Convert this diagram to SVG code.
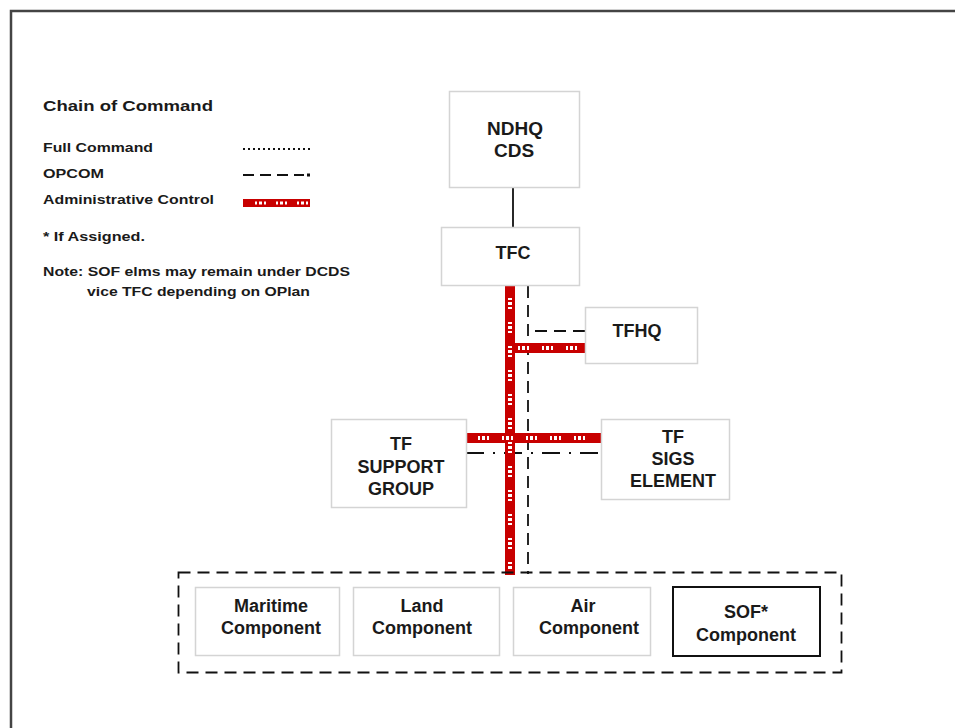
<svg xmlns="http://www.w3.org/2000/svg" width="955" height="728" viewBox="0 0 955 728">
<style>
text{font-family:"Liberation Sans",Arial,sans-serif;font-weight:bold;fill:#1a1a1a}
.lg{font-size:13.5px}
.nd{font-size:18px;text-anchor:middle}
.box{fill:#fff;stroke:#d4d4d4;stroke-width:1.5}
.red{stroke:#c80000;stroke-width:10;fill:none}
.redw{stroke:#fff;stroke-width:4;stroke-dasharray:2 2 3 2 2 13;fill:none}
.dash{stroke:#111;stroke-width:1.8;stroke-dasharray:12 7;fill:none}
.dd{stroke:#111;stroke-width:1.8;stroke-dasharray:18 9 2 9;fill:none}
</style>
<rect x="0" y="0" width="955" height="728" fill="#fff"/>
<path d="M11,728 V11 H955" fill="none" stroke="#444" stroke-width="2.5"/>
<g id="legend">
<text x="43" y="111" style="font-size:15.5px" textLength="170" lengthAdjust="spacingAndGlyphs">Chain of Command</text>
<text class="lg" x="43" y="152" textLength="110" lengthAdjust="spacingAndGlyphs">Full Command</text>
<text class="lg" x="43" y="178" textLength="61" lengthAdjust="spacingAndGlyphs">OPCOM</text>
<text class="lg" x="43" y="204" textLength="171" lengthAdjust="spacingAndGlyphs">Administrative Control</text>
<text class="lg" x="43" y="241" textLength="102" lengthAdjust="spacingAndGlyphs">* If Assigned.</text>
<text class="lg" x="43" y="276" textLength="307" lengthAdjust="spacingAndGlyphs">Note: SOF elms may remain under DCDS</text>
<text class="lg" x="87" y="296" textLength="223" lengthAdjust="spacingAndGlyphs">vice TFC depending on OPlan</text>
<line x1="243" y1="149" x2="311" y2="149" stroke="#111" stroke-width="2" stroke-dasharray="2 3"/>
<line x1="243" y1="175" x2="304" y2="175" stroke="#111" stroke-width="1.8" stroke-dasharray="11 6"/>
<rect x="307" y="173.5" width="3" height="3" fill="#111"/>
<line x1="243" y1="203" x2="310" y2="203" stroke="#c80000" stroke-width="8"/>
<line x1="255" y1="203" x2="310" y2="203" stroke="#fff" stroke-width="3" stroke-dasharray="2 2 3 2 2 10"/>
</g>
<g id="connectors">
<line x1="513" y1="187" x2="513" y2="227" stroke="#111" stroke-width="1.8"/>
<line class="dash" x1="528" y1="286" x2="528" y2="574"/>
<polyline class="dash" points="585,331 528,331"/>
<line class="dd" x1="466" y1="453" x2="600" y2="453"/>
<line class="red" x1="510" y1="286" x2="510" y2="575"/>
<line class="red" x1="510" y1="348" x2="585" y2="348"/>
<line class="red" x1="466" y1="438" x2="601" y2="438"/>
<line class="redw" x1="510" y1="298" x2="510" y2="570"/>
<line class="redw" x1="518" y1="348" x2="582" y2="348"/>
<line class="redw" x1="478" y1="438" x2="596" y2="438"/>
<rect x="178.5" y="572.5" width="663" height="100" fill="none" stroke="#111" stroke-width="1.8" stroke-dasharray="12 7"/>
</g>
<g id="ndhq"><rect class="box" x="449.5" y="91.5" width="130" height="96"/>
<text class="nd" x="515" y="135" style="font-size:19px">NDHQ</text><text class="nd" x="514" y="157" style="font-size:19px">CDS</text></g>
<g id="tfc"><rect class="box" x="441.5" y="227.5" width="138" height="58"/>
<text class="nd" x="513" y="259">TFC</text></g>
<g id="tfhq"><rect class="box" x="585.5" y="307.5" width="112" height="56"/>
<text class="nd" x="637" y="337">TFHQ</text></g>
<g id="tfsupport"><rect class="box" x="331.5" y="419.5" width="135" height="88"/>
<text class="nd" x="401" y="450">TF</text><text class="nd" x="401" y="473">SUPPORT</text><text class="nd" x="401" y="495">GROUP</text></g>
<g id="tfsigs"><rect class="box" x="601.5" y="419.5" width="128" height="80"/>
<text class="nd" x="673" y="443">TF</text><text class="nd" x="673" y="465">SIGS</text><text class="nd" x="673" y="487">ELEMENT</text></g>
<g id="maritime"><rect class="box" x="195.5" y="587.5" width="144" height="68"/>
<text class="nd" x="271" y="612">Maritime</text><text class="nd" x="271" y="634">Component</text></g>
<g id="land"><rect class="box" x="353.5" y="587.5" width="146" height="68"/>
<text class="nd" x="422" y="612">Land</text><text class="nd" x="422" y="634">Component</text></g>
<g id="air"><rect class="box" x="513.5" y="587.5" width="137" height="68"/>
<text class="nd" x="583" y="612">Air</text><text class="nd" x="589" y="634">Component</text></g>
<g id="sof"><rect x="673" y="587" width="147" height="69" fill="#fff" stroke="#111" stroke-width="2"/>
<text class="nd" x="746" y="618">SOF*</text><text class="nd" x="746" y="641">Component</text></g>
</svg>
